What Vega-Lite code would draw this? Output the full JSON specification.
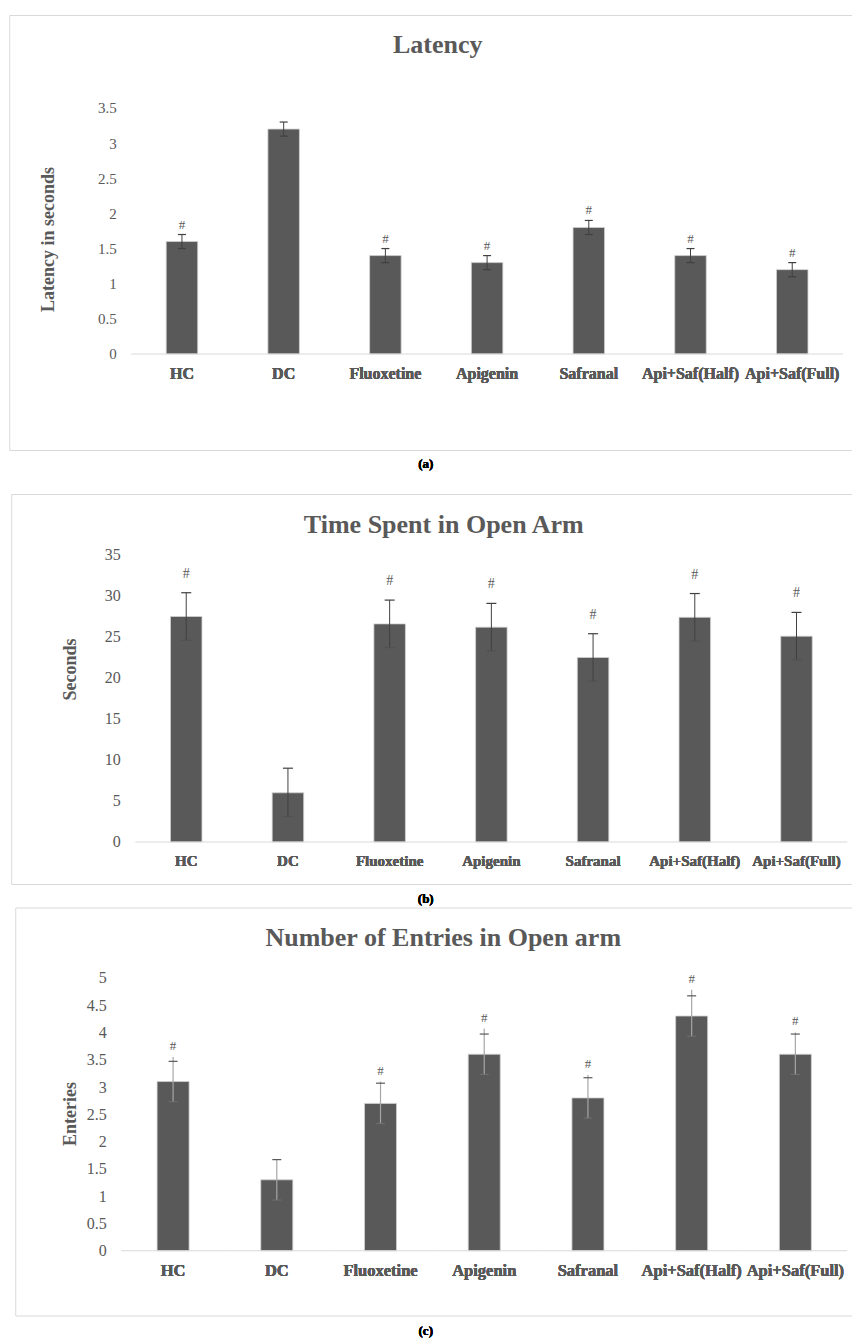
{
  "$schema": "https://vega.github.io/schema/vega-lite/v6.json",
  "padding": {"left": 8, "top": 14, "right": 0, "bottom": 0},
  "autosize": {"type": "pad"},
  "config": {
    "view": {"stroke": "#d9d9d9", "strokeWidth": 1},
    "axis": {"grid": false},
    "font": "Liberation Serif"
  },
  "datasets": {
    "latency": [
      {"group": "HC", "mean": 1.6, "lo": 1.5, "hi": 1.7, "sig": "#"},
      {"group": "DC", "mean": 3.2, "lo": 3.1, "hi": 3.3, "sig": ""},
      {"group": "Fluoxetine", "mean": 1.4, "lo": 1.3, "hi": 1.5, "sig": "#"},
      {"group": "Apigenin", "mean": 1.3, "lo": 1.2, "hi": 1.4, "sig": "#"},
      {"group": "Safranal", "mean": 1.8, "lo": 1.7, "hi": 1.9, "sig": "#"},
      {"group": "Api+Saf(Half)", "mean": 1.4, "lo": 1.3, "hi": 1.5, "sig": "#"},
      {"group": "Api+Saf(Full)", "mean": 1.2, "lo": 1.1, "hi": 1.3, "sig": "#"}
    ],
    "time": [
      {"group": "HC", "mean": 27.5, "lo": 24.6, "hi": 30.4, "sig": "#"},
      {"group": "DC", "mean": 6.0, "lo": 3.1, "hi": 9.0, "sig": ""},
      {"group": "Fluoxetine", "mean": 26.6, "lo": 23.7, "hi": 29.5, "sig": "#"},
      {"group": "Apigenin", "mean": 26.2, "lo": 23.3, "hi": 29.1, "sig": "#"},
      {"group": "Safranal", "mean": 22.5, "lo": 19.6, "hi": 25.4, "sig": "#"},
      {"group": "Api+Saf(Half)", "mean": 27.4, "lo": 24.5, "hi": 30.3, "sig": "#"},
      {"group": "Api+Saf(Full)", "mean": 25.1, "lo": 22.2, "hi": 28.0, "sig": "#"}
    ],
    "entries": [
      {"group": "HC", "mean": 3.1, "lo": 2.73, "hi": 3.47, "top": 3.55, "sig": "#"},
      {"group": "DC", "mean": 1.3, "lo": 0.93, "hi": 1.67, "top": 1.67, "sig": ""},
      {"group": "Fluoxetine", "mean": 2.7, "lo": 2.33, "hi": 3.07, "top": 3.1, "sig": "#"},
      {"group": "Apigenin", "mean": 3.6, "lo": 3.23, "hi": 3.97, "top": 4.07, "sig": "#"},
      {"group": "Safranal", "mean": 2.8, "lo": 2.43, "hi": 3.17, "top": 3.22, "sig": "#"},
      {"group": "Api+Saf(Half)", "mean": 4.3, "lo": 3.93, "hi": 4.67, "top": 4.78, "sig": "#"},
      {"group": "Api+Saf(Full)", "mean": 3.6, "lo": 3.23, "hi": 3.97, "top": 4.0, "sig": "#"}
    ]
  },
  "vconcat": [
    {
      "vconcat": [
        {
          "width": 856,
          "height": 435,
          "data": {"name": "latency"},
          "encoding": {
            "x": {
              "field": "group", "type": "nominal",
              "sort": ["HC", "DC", "Fluoxetine", "Apigenin", "Safranal", "Api+Saf(Half)", "Api+Saf(Full)"],
              "scale": {"type": "band", "paddingInner": 0.584, "paddingOuter": 1, "align": 0.745, "round": false},
              "axis": {
                "title": "(a)", "orient": "bottom", "offset": -96, "domain": false, "ticks": false,
                "labelAngle": 0, "labelPadding": 19, "labelBaseline": "middle", "labelOverlap": false, "labelLimit": 300,
                "labelFont": "Liberation Serif", "labelFontWeight": "bold", "labelFontSize": 16, "labelColor": "#595959",
                "titleX": 416, "titleY": 109, "titleBaseline": "middle", "titleFont": "Liberation Serif", "titleFontSize": 13, "titleFontWeight": "bold", "titleColor": "#000000"
              }
            }
          },
          "layer": [
            {
              "mark": {"type": "bar", "width": 31.5, "fill": "#595959", "stroke": "#d0d0d0", "strokeWidth": 0.8},
              "encoding": {
                "y": {
                  "field": "mean", "type": "quantitative",
                  "scale": {"domain": [-1.366, 4.823], "nice": false, "zero": false},
                  "axis": {
                    "title": "Latency in seconds", "values": [0, 0.5, 1, 1.5, 2, 2.5, 3, 3.5], "format": "~g",
                    "offset": -120, "domain": false, "ticks": false, "labelPadding": 13,
                    "labelFont": "Liberation Serif", "labelFontSize": 15, "labelColor": "#595959",
                    "titleX": -81, "titleY": 224, "titleBaseline": "middle", "titleAngle": -90,
                    "titleFont": "Liberation Serif", "titleFontSize": 18, "titleFontWeight": "bold", "titleColor": "#595959"
                  }
                }
              }
            },
            {
              "mark": {"type": "tick", "orient": "horizontal", "size": 101.71, "thickness": 1, "color": "#d9d9d9", "opacity": 1},
              "encoding": {
                "x": {
                  "field": "group", "type": "nominal",
                  "sort": ["HC", "DC", "Fluoxetine", "Apigenin", "Safranal", "Api+Saf(Half)", "Api+Saf(Full)"],
                  "axis": {
                    "orient": "top", "labels": false, "domain": false, "ticks": false, "title": "Latency",
                    "titleX": 428, "titleY": 29, "titleBaseline": "middle", "titleFont": "Liberation Serif", "titleFontSize": 26, "titleFontWeight": "bold", "titleColor": "#595959"
                  }
                },
                "y": {"datum": 0, "type": "quantitative"}
              }
            },
            {
              "mark": {"type": "rule", "color": "#404040", "strokeWidth": 1},
              "encoding": {"y": {"field": "lo", "type": "quantitative"}, "y2": {"field": "hi"}}
            },
            {
              "mark": {"type": "tick", "orient": "horizontal", "size": 8, "thickness": 1.2, "color": "#404040", "opacity": 1},
              "encoding": {"y": {"field": "hi", "type": "quantitative"}}
            },
            {
              "mark": {"type": "tick", "orient": "horizontal", "size": 8, "thickness": 1.2, "color": "#404040", "opacity": 1},
              "encoding": {"y": {"field": "lo", "type": "quantitative"}}
            },
            {
              "mark": {"type": "text", "font": "Liberation Serif", "fontSize": 13, "color": "#595959", "baseline": "middle", "dy": -10},
              "encoding": {"y": {"field": "hi", "type": "quantitative"}, "text": {"field": "sig"}}
            }
          ]
        },
        {
          "width": 852,
          "height": 390,
          "data": {"name": "time"},
          "encoding": {
            "x": {
              "field": "group", "type": "nominal",
              "sort": ["HC", "DC", "Fluoxetine", "Apigenin", "Safranal", "Api+Saf(Half)", "Api+Saf(Full)"],
              "scale": {"type": "band", "paddingInner": 0.6233, "paddingOuter": 1, "align": 0.766, "round": false},
              "axis": {
                "title": "(b)", "orient": "bottom", "offset": -42, "domain": false, "ticks": false,
                "labelAngle": 0, "labelPadding": 18, "labelBaseline": "middle", "labelOverlap": false, "labelLimit": 300,
                "labelFont": "Liberation Serif", "labelFontWeight": "bold", "labelFontSize": 15, "labelColor": "#595959",
                "titleX": 414, "titleY": 56, "titleBaseline": "middle", "titleFont": "Liberation Serif", "titleFontSize": 13, "titleFontWeight": "bold", "titleColor": "#000000"
              }
            }
          },
          "layer": [
            {
              "mark": {"type": "bar", "width": 31.5, "fill": "#595959", "stroke": "#d0d0d0", "strokeWidth": 0.8},
              "encoding": {
                "y": {
                  "field": "mean", "type": "quantitative",
                  "scale": {"domain": [-5.122, 42.439], "nice": false, "zero": false},
                  "axis": {
                    "title": "Seconds", "values": [0, 5, 10, 15, 20, 25, 30, 35], "format": "~g",
                    "offset": -124, "domain": false, "ticks": false, "labelPadding": 15,
                    "labelFont": "Liberation Serif", "labelFontSize": 16, "labelColor": "#595959",
                    "titleX": -65, "titleY": 175, "titleBaseline": "middle", "titleAngle": -90,
                    "titleFont": "Liberation Serif", "titleFontSize": 18, "titleFontWeight": "bold", "titleColor": "#595959"
                  }
                }
              }
            },
            {
              "mark": {"type": "tick", "orient": "horizontal", "size": 101.71, "thickness": 1, "color": "#d9d9d9", "opacity": 1},
              "encoding": {
                "x": {
                  "field": "group", "type": "nominal",
                  "sort": ["HC", "DC", "Fluoxetine", "Apigenin", "Safranal", "Api+Saf(Half)", "Api+Saf(Full)"],
                  "axis": {
                    "orient": "top", "labels": false, "domain": false, "ticks": false, "title": "Time Spent in Open Arm",
                    "titleX": 432, "titleY": 30, "titleBaseline": "middle", "titleFont": "Liberation Serif", "titleFontSize": 26, "titleFontWeight": "bold", "titleColor": "#595959"
                  }
                },
                "y": {"datum": 0, "type": "quantitative"}
              }
            },
            {
              "mark": {"type": "rule", "color": "#404040", "strokeWidth": 1},
              "encoding": {"y": {"field": "lo", "type": "quantitative"}, "y2": {"field": "hi"}}
            },
            {
              "mark": {"type": "tick", "orient": "horizontal", "size": 10, "thickness": 1.2, "color": "#404040", "opacity": 1},
              "encoding": {"y": {"field": "hi", "type": "quantitative"}}
            },
            {
              "mark": {"type": "tick", "orient": "horizontal", "size": 10, "thickness": 1, "color": "#505050", "opacity": 1},
              "encoding": {"y": {"field": "lo", "type": "quantitative"}}
            },
            {
              "mark": {"type": "text", "font": "Liberation Serif", "fontSize": 14, "color": "#595959", "baseline": "middle", "dy": -19},
              "encoding": {"y": {"field": "hi", "type": "quantitative"}, "text": {"field": "sig"}}
            }
          ]
        }
      ],
      "spacing": 44,
      "bounds": "flush",
      "center": true
    },
    {
      "width": 844,
      "height": 408,
      "data": {"name": "entries"},
      "encoding": {
        "x": {
          "field": "group", "type": "nominal",
          "sort": ["HC", "DC", "Fluoxetine", "Apigenin", "Safranal", "Api+Saf(Half)", "Api+Saf(Full)"],
          "scale": {"type": "band", "paddingInner": 0.69, "paddingOuter": 0.914, "align": 0.7478, "round": false},
          "axis": {
            "title": "(c)", "orient": "bottom", "offset": -64.7, "domain": false, "ticks": false,
            "labelAngle": 0, "labelPadding": 20, "labelBaseline": "middle", "labelOverlap": false, "labelLimit": 300,
            "labelFont": "Liberation Serif", "labelFontWeight": "bold", "labelFontSize": 16.5, "labelColor": "#595959",
            "titleX": 410, "titleY": 80, "titleBaseline": "middle", "titleFont": "Liberation Serif", "titleFontSize": 13, "titleFontWeight": "bold", "titleColor": "#000000"
          }
        }
      },
      "layer": [
        {
          "mark": {"type": "bar", "width": 32, "fill": "#595959", "stroke": "#d0d0d0", "strokeWidth": 0.8},
          "encoding": {
            "y": {
              "field": "mean", "type": "quantitative",
              "scale": {"domain": [-1.185, 6.288], "nice": false, "zero": false},
              "axis": {
                "title": "Enteries", "values": [0, 0.5, 1, 1.5, 2, 2.5, 3, 3.5, 4, 4.5, 5], "format": "~g",
                "offset": -106, "domain": false, "ticks": false, "labelPadding": 15,
                "labelFont": "Liberation Serif", "labelFontSize": 16, "labelColor": "#595959",
                "titleX": -51, "titleY": 206, "titleBaseline": "middle", "titleAngle": -90,
                "titleFont": "Liberation Serif", "titleFontSize": 18, "titleFontWeight": "bold", "titleColor": "#595959"
              }
            }
          }
        },
        {
          "mark": {"type": "tick", "orient": "horizontal", "size": 103.71, "thickness": 1, "color": "#d9d9d9", "opacity": 1},
          "encoding": {
            "x": {
              "field": "group", "type": "nominal",
              "sort": ["HC", "DC", "Fluoxetine", "Apigenin", "Safranal", "Api+Saf(Half)", "Api+Saf(Full)"],
              "axis": {
                "orient": "top", "labels": false, "domain": false, "ticks": false, "title": "Number of Entries in Open arm",
                "titleX": 427.5, "titleY": 30, "titleBaseline": "middle", "titleFont": "Liberation Serif", "titleFontSize": 26, "titleFontWeight": "bold", "titleColor": "#595959"
              }
            },
            "y": {"datum": 0, "type": "quantitative"}
          }
        },
        {
          "mark": {"type": "rule", "color": "#a6a6a6", "strokeWidth": 1.2},
          "encoding": {"y": {"field": "lo", "type": "quantitative"}, "y2": {"field": "top"}}
        },
        {
          "mark": {"type": "tick", "orient": "horizontal", "size": 9, "thickness": 1.2, "color": "#595959", "opacity": 1},
          "encoding": {"y": {"field": "hi", "type": "quantitative"}}
        },
        {
          "mark": {"type": "tick", "orient": "horizontal", "size": 9, "thickness": 1, "color": "#707070", "opacity": 1},
          "encoding": {"y": {"field": "lo", "type": "quantitative"}}
        },
        {
          "mark": {"type": "text", "font": "Liberation Serif", "fontSize": 13, "color": "#595959", "baseline": "middle", "dy": -11},
          "encoding": {"y": {"field": "top", "type": "quantitative"}, "text": {"field": "sig"}}
        }
      ]
    }
  ],
  "spacing": 0.5,
  "center": true
}
